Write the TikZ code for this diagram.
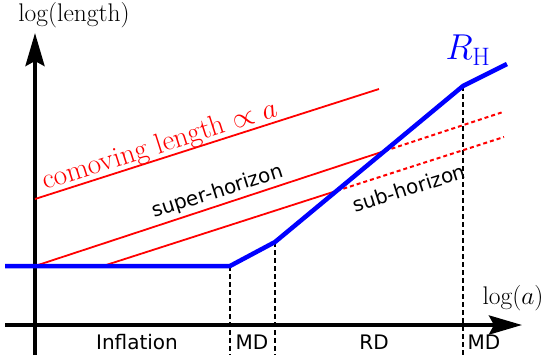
\RequirePackage{fix-cm}
\documentclass[tikz,border=0pt]{standalone}
\usepackage{fontspec}
\newfontfamily\sansdv{DejaVu Sans}
\usetikzlibrary{arrows.meta}

\tikzset{
  axe/.style={line width=4pt, -{Stealth[length=33pt,width=19pt,inset=5pt]}},
  horizon/.style={blue, line width=4.5pt, line join=round},
  comobile/.style={red, line width=1.8pt},
  pointille/.style={red, line width=2pt, dash pattern=on 4pt off 3pt},
  repere/.style={line width=1.5pt, dash pattern=on 5pt off 3pt},
  phase/.style={font=\fontsize{20}{24}\sansdv},
  regime/.style={phase, rotate=17.7},
  titre/.style={font=\fontsize{25.5}{30}\selectfont},
}

\begin{document}
\begin{tikzpicture}[x=1pt, y=-1pt]
  \useasboundingbox (0,0) rectangle (550,360);

  % Points du rayon de Hubble
  \coordinate (h0) at (5,266);
  \coordinate (h1) at (230,266);
  \coordinate (h2) at (275,242);
  \coordinate (h3) at (463,86);
  \coordinate (h4) at (507,64);
  \coordinate (bas) at (0,355);

  % Axes
  \draw[axe] (35,355) -- (35,33);
  \draw[axe] (5,325) -- (522,325);
  \node[titre] (ylab) at (74,15) {log(length)};
  \node[titre] (xlab) at (513,298) {log($a$)};

  % Limites des phases
  \draw[repere] (h1) -- (h1 |- bas);
  \draw[repere] (h2) -- (h2 |- bas);
  \draw[repere] (h3) -- (h3 |- bas);
  \node[phase] (infl) at (137,342) {Inflation};
  \node[phase] (md1) at (252,342) {MD};
  \node[phase] (rd) at (374,342) {RD};
  \node[phase] (md2) at (484,342) {MD};

  % Longueurs comobiles
  \coordinate (c1a) at (35,199);
  \coordinate (c1b) at (379,89);
  \coordinate (c2a) at (35,266);
  \coordinate (c2b) at (503,112);
  \coordinate (c3a) at (103,266);
  \coordinate (c3b) at (504,137);
  \coordinate (x2) at (intersection of c2a--c2b and h2--h3);
  \coordinate (x3) at (intersection of c3a--c3b and h2--h3);
  \draw[comobile] (c1a) -- (c1b);
  \draw[comobile] (c2a) -- (x2);
  \draw[pointille] (x2) -- (c2b);
  \draw[comobile] (c3a) -- (x3);
  \draw[pointille] (x3) -- (c3b);
  \node[red, rotate=17.7, font=\fontsize{29}{34}\selectfont] (como) at (160,146)
    {comoving length $\propto a$};
  \node[regime] (super) at (218,192) {super-horizon};
  \node[regime] (sub) at (409,188) {sub-horizon};

  % Rayon de Hubble
  \draw[horizon] (h0) -- (h1) -- (h2) -- (h3) -- (h4);
  \node[blue, font=\fontsize{36}{40}\selectfont] (rh) at (468,50) {$R_{\mathrm{H}}$};
\end{tikzpicture}
\end{document}
